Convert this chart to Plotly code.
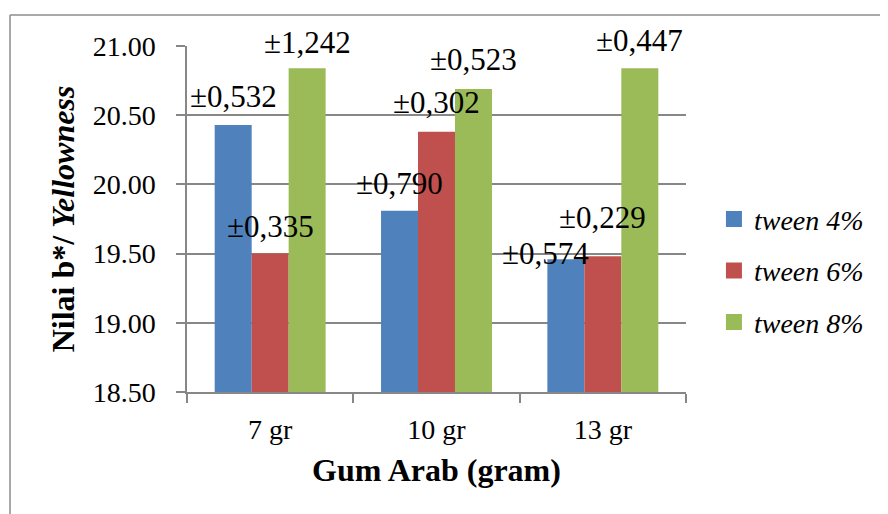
import plotly.graph_objects as go

categories = ["7 gr", "10 gr", "13 gr"]
series_names = ["tween 4%", "tween 6%", "tween 8%"]
tween4 = [20.43, 19.81, 19.46]
tween6 = [19.50, 20.38, 19.48]
tween8 = [20.84, 20.69, 20.84]
sd4 = ["±0,532", "±0,790", "±0,574"]
sd6 = ["±0,335", "±0,302", "±0,229"]
sd8 = ["±1,242", "±0,523", "±0,447"]
y_ticks = [18.5, 19.0, 19.5, 20.0, 20.5, 21.0]

colors = ["#4F81BD", "#C0504D", "#9BBB59"]
values = [tween4, tween6, tween8]
labels = [sd4, sd6, sd8]

# label placement (pixel offsets relative to bar top centre)
label_xshift = [[0, 0, -20], [0, 0, 0], [0, 0, 0]]
label_yshift = [[28, 27, 6], [27, 29, 39], [26, 29, 28]]

FONT = "Liberation Serif"
# page has an 8px body margin, so the figure is shifted by (8, 8)
W, H = 880, 506
L, R, T, B = 179, 202, 38, 122
plot_w = W - L - R
plot_h = H - T - B
cat_w = plot_w / len(categories)
bargap = 0.333
bar_w = cat_w * (1 - bargap) / 3

fig = go.Figure()
for i, (name, vals) in enumerate(zip(series_names, values)):
    fig.add_trace(go.Bar(
        x=categories, y=vals, name="<i>" + name + "</i>",
        marker=dict(color=colors[i], line=dict(width=0)),
        showlegend=False,
    ))
    fig.add_trace(go.Scatter(
        x=[None], y=[None], mode="markers", name="<i>" + name + "</i>",
        marker=dict(symbol="square", size=16, color=colors[i]),
        legendgroup=name,
    ))

for i in range(3):
    for j, cat in enumerate(categories):
        fig.add_annotation(
            x=cat, y=values[i][j], xref="x", yref="y",
            text=labels[i][j], showarrow=False,
            xshift=(i - 1) * bar_w + label_xshift[i][j],
            yshift=label_yshift[i][j],
            font=dict(family=FONT, size=31, color="#000000"),
            xanchor="center", yanchor="middle",
        )

grid_c = "#878787"
fig.update_layout(
    width=W, height=H,
    margin=dict(l=L, r=R, t=T, b=B, autoexpand=False),
    paper_bgcolor="white", plot_bgcolor="white",
    barmode="group", bargap=bargap, bargroupgap=0,
    font=dict(family=FONT, color="#000000"),
    legend=dict(
        x=1.056, y=0.35, xanchor="left", yanchor="middle",
        font=dict(family=FONT, size=28, color="#000000"),
        tracegroupgap=12, bgcolor="rgba(0,0,0,0)",
    ),
    xaxis=dict(
        type="category", tickson="boundaries",
        showline=True, linecolor=grid_c, linewidth=1.5,
        ticks="outside", ticklen=9, tickcolor=grid_c, tickwidth=1.5,
        showgrid=False, automargin=False,
        tickfont=dict(family=FONT, size=28),
        ticklabelstandoff=12,
        title=dict(text="<b>Gum Arab (gram)</b>",
                   font=dict(family=FONT, size=32), standoff=14),
    ),
    yaxis=dict(
        range=[18.5, 21.0], tickvals=y_ticks,
        ticktext=[f"{v:.2f}" for v in y_ticks],
        showline=True, linecolor=grid_c, linewidth=1.5,
        ticks="outside", ticklen=9, tickcolor=grid_c, tickwidth=1.5,
        showgrid=True, gridcolor=grid_c, gridwidth=1.5,
        zeroline=False, automargin=False,
        tickfont=dict(family=FONT, size=28),
        ticklabelstandoff=15,
        title=dict(text="<b>Nilai b*/ <i>Yellowness</i></b>",
                   font=dict(family=FONT, size=32), standoff=8),
    ),
)

# outer chart frame (partially visible)
fy = (H - B - 7) / plot_h
fx = (2 - L) / plot_w
fig.add_shape(type="line", xref="paper", yref="paper",
              x0=fx, x1=(W + 5 - L) / plot_w, y0=fy, y1=fy,
              line=dict(color="#8c8c8c", width=1.5))
fig.add_shape(type="line", xref="paper", yref="paper",
              x0=fx, x1=fx, y0=fy, y1=(-B - 10) / plot_h,
              line=dict(color="#8c8c8c", width=1.5))

fig.write_html("out.html")
